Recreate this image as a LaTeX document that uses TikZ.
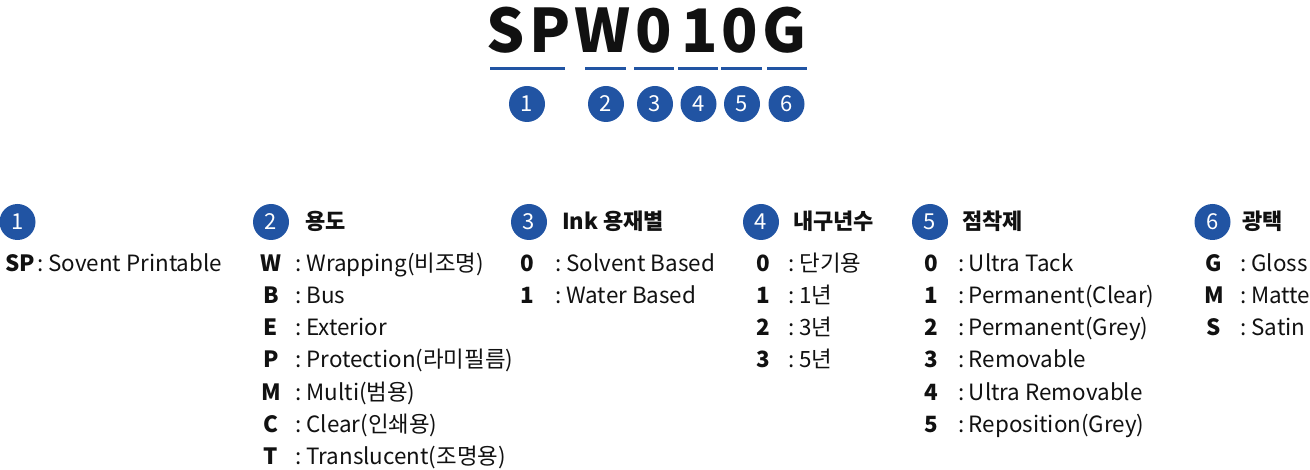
\documentclass[tikz,border=0pt]{standalone}
\usepackage{fontspec}
\setmainfont{Noto Sans CJK KR}
\definecolor{navy}{RGB}{33,84,163}
\definecolor{ink}{RGB}{17,17,17}
\newcommand{\colsep}{:\hspace{4.5pt}}
\tikzset{
  title/.style={anchor=base,inner sep=0pt,font=\fontsize{60}{60}\selectfont\bfseries,text=ink},
  uline/.style={draw=navy,line width=3pt},
  badge/.style={circle,fill=navy,minimum size=36pt,inner sep=0pt,text=white,font=\fontsize{22}{22}\selectfont},
  head/.style={anchor=base west,inner sep=0pt,font=\fontsize{22}{22}\selectfont\bfseries,text=ink},
  code/.style={anchor=base,inner sep=0pt,font=\fontsize{22.4}{22.4}\selectfont\bfseries,text=ink},
  desc/.style={anchor=base west,inner sep=0pt,font=\fontsize{22.4}{22.4}\selectfont,text=ink}
}
\begin{document}
\begin{tikzpicture}[x=1pt,y=-1pt]
\useasboundingbox (0,0) rectangle (1310,470);
% title letters
\node[title] (tS) at (506,53) {S};
\node[title] (tP) at (550,53) {P};
\node[title] (tW) at (603,53) {W};
\node[title] (t0a) at (654,53) {0};
\node[title] (t1) at (700,53) {1};
\node[title] (t0b) at (740,53) {0};
\node[title] (tG) at (784,53) {G};
% underlines
\draw[uline] (490,68.5) -- (565,68.5);
\draw[uline] (585,68.5) -- (626,68.5);
\draw[uline] (634,68.5) -- (674,68.5);
\draw[uline] (678,68.5) -- (718,68.5);
\draw[uline] (721,68.5) -- (762,68.5);
\draw[uline] (767,68.5) -- (807,68.5);
% top badges
\node[badge] (b1) at (527,104) {1};
\node[badge] (b2) at (606,104) {2};
\node[badge] (b3) at (655,104) {3};
\node[badge] (b4) at (698.5,104) {4};
\node[badge] (b5) at (742,104) {5};
\node[badge] (b6) at (786.5,104) {6};
% column 1
\node[badge] (c1) at (17.5,222) {1};
\node[code,anchor=base west] (k11) at (5,272) {SP};
\node[desc] (d11) at (37.5,272) {\colsep Sovent Printable};
% column 2
\node[badge] (c2) at (271,222) {2};
\node[head] (h2) at (305,230) {용도};
\foreach \c/\t [count=\i] in {W/{Wrapping(비조명)},B/Bus,E/Exterior,P/{Protection(라미필름)},M/{Multi(범용)},C/{Clear(인쇄용)},T/{Translucent(조명용)}}{
  \node[code] (k2\i) at (271,{272+32*(\i-1)}) {\c};
  \node[desc] (d2\i) at (295.5,{272+32*(\i-1)}) {\colsep\t};
}
% column 3
\node[badge] (c3) at (529,222) {3};
\node[head] (h3) at (562,230) {Ink 용재별};
\foreach \c/\t [count=\i] in {0/{Solvent Based},1/{Water Based}}{
  \node[code] (k3\i) at (527,{272+32*(\i-1)}) {\c};
  \node[desc] (d3\i) at (555.5,{272+32*(\i-1)}) {\colsep\t};
}
% column 4
\node[badge] (c4) at (761,222) {4};
\node[head] (h4) at (793,230) {내구년수};
\foreach \c/\t [count=\i] in {0/단기용,1/1년,2/3년,3/5년}{
  \node[code] (k4\i) at (763,{272+32*(\i-1)}) {\c};
  \node[desc] (d4\i) at (788.5,{272+32*(\i-1)}) {\colsep\t};
}
% column 5
\node[badge] (c5) at (930,222) {5};
\node[head] (h5) at (962,230) {점착제};
\foreach \c/\t [count=\i] in {0/{Ultra Tack},1/{Permanent(Clear)},2/{Permanent(Grey)},3/Removable,4/{Ultra Removable},5/{Reposition(Grey)}}{
  \node[code] (k5\i) at (931,{272+32*(\i-1)}) {\c};
  \node[desc] (d5\i) at (958,{272+32*(\i-1)}) {\colsep\t};
}
% column 6
\node[badge] (c6) at (1212.5,222) {6};
\node[head] (h6) at (1242,230) {광택};
\foreach \c/\t [count=\i] in {G/Gloss,M/Matte,S/Satin}{
  \node[code] (k6\i) at (1214,{272+32*(\i-1)}) {\c};
  \node[desc] (d6\i) at (1240.5,{272+32*(\i-1)}) {\colsep\t};
}
\end{tikzpicture}
\end{document}
